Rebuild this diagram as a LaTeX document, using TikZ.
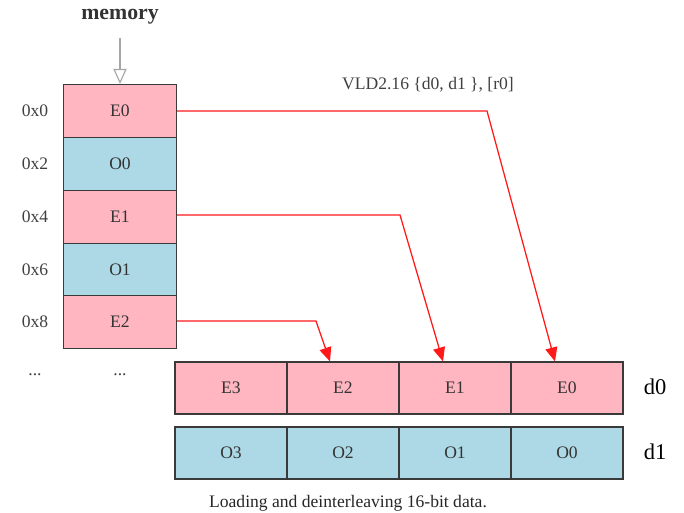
\documentclass[tikz,border=0pt]{standalone}
\usepackage{fontspec}
\setmainfont{Liberation Serif}
\usetikzlibrary{arrows.meta}

\definecolor{evenpink}{HTML}{FFB6C1}
\definecolor{oddblue}{HTML}{ADD8E6}
\definecolor{edgegray}{HTML}{3A3A3A}

\begin{document}
\begin{tikzpicture}[
    x=0.025cm, y=-0.025cm,
    cell/.style={draw=edgegray, line width=0.8pt, minimum width=2.825cm, minimum height=1.325cm,
        inner sep=0pt, font=\fontsize{12.5}{14}\selectfont, text=black!80},
    reg/.style={cell, minimum width=2.8cm, minimum height=1.3cm},
    addr/.style={font=\fontsize{12.5}{14}\selectfont, text=black!75},
    regname/.style={font=\fontsize{16}{18}\selectfont},
    load/.style={-{Triangle[length=0.35cm, width=0.3cm]}, red!90, line width=0.9pt}
]
\useasboundingbox (0,0) rectangle (684,513);

% memory column
\node[font=\fontsize{15.5}{17}\selectfont\bfseries, text=black!80] (MemLabel) at (120, 17) {memory};
\node[cell, fill=evenpink] (M0) at (120, 111) {E0};
\node[cell, fill=oddblue]  (M2) at (120, 164) {O0};
\node[cell, fill=evenpink] (M4) at (120, 217) {E1};
\node[cell, fill=oddblue]  (M6) at (120, 270) {O1};
\node[cell, fill=evenpink] (M8) at (120, 322) {E2};
\node[addr] (MDots) at (120, 375) {...};

\node[addr] (A0) at (35, 111) {0x0};
\node[addr] (A2) at (35, 164) {0x2};
\node[addr] (A4) at (35, 217) {0x4};
\node[addr] (A6) at (35, 270) {0x6};
\node[addr] (A8) at (35, 322) {0x8};
\node[addr] (ADots) at (35, 375) {...};

\coordinate (MemTop) at (120, 38);
\draw[-{Triangle[open, length=0.375cm, width=0.33cm]}, gray!70, line width=0.8pt] (MemTop) -- (M0.north);

% registers d0 and d1
\node[reg, fill=evenpink] (D0E3) at (231, 388) {E3};
\node[reg, fill=evenpink] (D0E2) at (343, 388) {E2};
\node[reg, fill=evenpink] (D0E1) at (455, 388) {E1};
\node[reg, fill=evenpink] (D0E0) at (567, 388) {E0};
\node[regname] (D0Label) at (655, 387) {d0};

\node[reg, fill=oddblue] (D1O3) at (231, 453) {O3};
\node[reg, fill=oddblue] (D1O2) at (343, 453) {O2};
\node[reg, fill=oddblue] (D1O1) at (455, 453) {O1};
\node[reg, fill=oddblue] (D1O0) at (567, 453) {O0};
\node[regname] (D1Label) at (655, 452) {d1};

\node[addr] (Instr) at (428, 85) {VLD2.16 \{d0, d1 \}, [r0]};

% even elements go to d0
\coordinate (Bend0) at (487, 111);
\coordinate (Bend1) at (400, 215);
\coordinate (Bend2) at (316, 321);
\draw[load] (M0.east |- Bend0) -- (Bend0) -- (D0E0.north -| 555, 0);
\draw[load] (M4.east |- Bend1) -- (Bend1) -- (D0E1.north -| 443, 0);
\draw[load] (M8.east |- Bend2) -- (Bend2) -- (D0E2.north -| 330, 0);

\node[addr, text=black!85] (Caption) at (348, 503) {Loading and deinterleaving 16-bit data.};
\end{tikzpicture}
\end{document}
